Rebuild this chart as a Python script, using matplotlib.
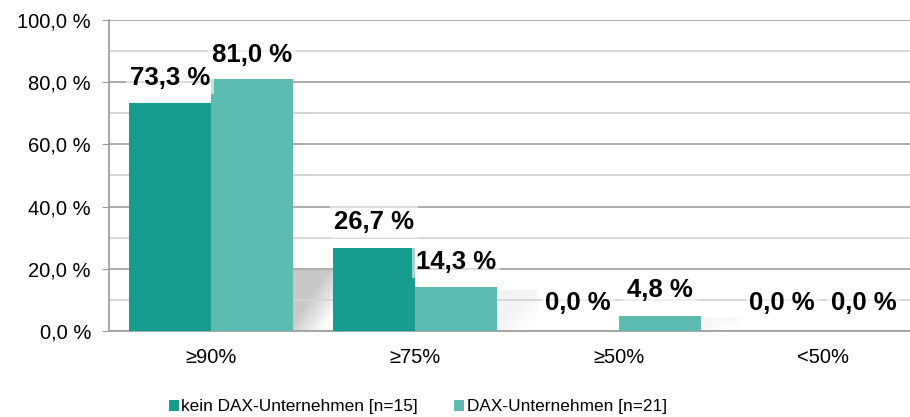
import matplotlib
matplotlib.use("Agg")
import matplotlib.pyplot as plt
import numpy as np
from matplotlib.patches import Patch

categories = ["≥90%", "≥75%", "≥50%", "<50%"]
series_names = ["kein DAX-Unternehmen [n=15]", "DAX-Unternehmen [n=21]"]
kein_dax = [73.3, 26.7, 0.0, 0.0]
dax = [81.0, 14.3, 4.8, 0.0]
colors = ["#179D8E", "#5DBCB1"]

plt.rcParams['font.family'] = ['Liberation Sans', 'DejaVu Sans']

fig = plt.figure(figsize=(9.10, 4.17), dpi=100)
ax = fig.add_axes([109/910, (417-331)/417, 816/910, 311/417])

x = np.arange(len(categories))
w = 0.40
ax.bar(x - w/2, kein_dax, width=w, color=colors[0], zorder=3, label=series_names[0])
ax.bar(x + w/2, dax, width=w, color=colors[1], zorder=3, label=series_names[1])

# soft shadow to the right of each group (decorative)
gap = 1 - 2*w
yy, xx = np.mgrid[0:1:60j, 0:1:60j]
for i in range(len(categories)):
    v = dax[i]
    if v <= 0:
        continue
    h = min(v * 0.92, 19.5)
    strength = 0.30 * min(1.0, v / 80.0) ** 1.2 + 0.03
    a = strength * np.clip(1.0 - 1.1 * np.clip(xx + yy - 0.85, 0, None), 0, 1)
    rgba = np.zeros((60, 60, 4))
    rgba[..., :3] = 0.35
    rgba[..., 3] = a
    x0 = x[i] + w
    ax.imshow(rgba, extent=(x0, x0 + gap, 0, h), aspect="auto", zorder=1, interpolation="bilinear")

ax.set_xlim(-0.5, 3.5)
ax.set_ylim(0, 100)
ax.set_yticks(np.arange(0, 101, 20))
ax.set_yticks(np.arange(10, 100, 20), minor=True)
ax.set_yticklabels([f"{v:.1f}".replace(".", ",") + " %" for v in np.arange(0, 101, 20)], fontsize=14.5)
ax.tick_params(axis='y', which='major', length=5, color="#999999", pad=8)
ax.tick_params(axis='y', which='minor', length=0)
ax.grid(axis='y', which='major', color="#A6A6A6", linewidth=1.3)
ax.grid(axis='y', which='minor', color="#D3D3D3", linewidth=1.3)
ax.set_xticks(x)
ax.set_xticklabels(categories, fontsize=14.5)
ax.tick_params(axis='x', length=0, pad=12)
for s in ["top", "right"]:
    ax.spines[s].set_visible(False)
for s in ["left", "bottom"]:
    ax.spines[s].set_color("#A0A0A0")
    ax.spines[s].set_linewidth(1.3)

# data labels (y offset above the bar, in data units)
lab_dy1 = [8.0, 8.3, 9.0, 9.0]
lab_dy2 = [7.7, 7.9, 8.4, 9.0]
for i in range(len(categories)):
    for vals, dys, off in ((kein_dax, lab_dy1, -w/2), (dax, lab_dy2, w/2)):
        v = vals[i]
        ax.text(x[i] + off, v + dys[i], (f"{v:.1f}".replace(".", ",") + " %"),
                ha="center", va="center", fontsize=18.5, fontweight="bold", zorder=5,
                bbox=dict(boxstyle="square,pad=0.15", facecolor="white", edgecolor="none", alpha=0.6))

handles = [Patch(facecolor=c) for c in colors]
fig.legend(handles, series_names, loc="center", bbox_to_anchor=(418/910, 1 - 407/417),
           ncol=2, frameon=False, fontsize=12.4, handlelength=0.58, handleheight=0.58,
           handletextpad=0.17, columnspacing=2.1)

fig.savefig("out.png", dpi=100)
